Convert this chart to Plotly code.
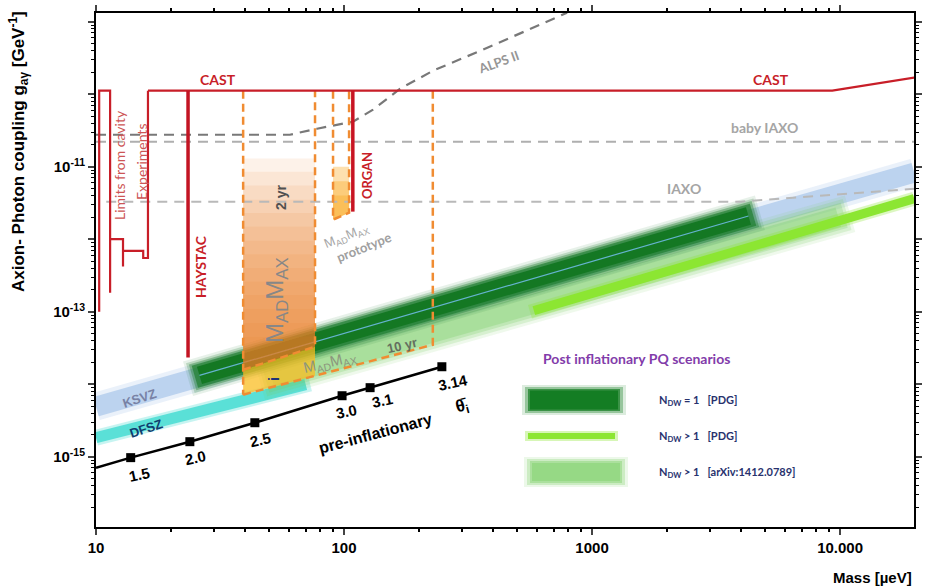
import numpy as np
import plotly.graph_objects as go

# ---------------- data (mass in µeV, coupling g_aγ in GeV^-1) ----------------
cavity_mass = [10.3, 10.3, 11.4, 11.4, None, 11.4, 12.85, 12.85, None, 12.85, 15.5, 15.5, 16.2, 16.2]
cavity_g = [1.0e-13, 1.12e-10, 1.12e-10, 1.82e-13, None, 1.0e-12, 1.0e-12, 4.2e-13, None,
            6.9e-13, 6.9e-13, 5.5e-13, 5.5e-13, 1.12e-10]
cast_mass = [16.2, 9300, 19900]
cast_g = [1.12e-10, 1.12e-10, 1.69e-10]
haystac_mass = [23.5, 23.5]
haystac_g = [1.12e-10, 2.34e-14]
organ_mass = [108.5, 108.5]
organ_g = [1.12e-10, 2.4e-12]

alps_mass = [10, 60.5, 77.8, 108.7, 130.9, 168.3, 228.6, 363, 617, 793]
alps_g = [2.76e-11, 2.76e-11, 3.34e-11, 4.18e-11, 6.11e-11, 1.19e-10, 2.11e-10, 4.11e-10, 9.1e-10, 1.33e-9]
babyiaxo_mass = [10, 19900]
babyiaxo_g = [2.21e-11, 2.21e-11]
iaxo_mass = [11, 3950, 19900]
iaxo_g = [3.29e-12, 3.29e-12, 4.97e-12]

ksvz_mass = [10, 19900]
ksvz_g = [4.9e-15, 8.3e-12]
dfsz_mass = [10, 72.9]
dfsz_g = [1.83e-15, 1.02e-14]

ndw1_mass = [23.5, 4750]
ndw1_g = [1.19e-14, 2.32e-12]
arxiv_mass = [45.8, 10970]
arxiv_g = [1.08e-14, 2.25e-12]
ndwpdg_mass = [562, 19900]
ndwpdg_g = [1.0e-13, 3.62e-12]

# MADMAX sensitivity outlines
mm_left_mass = [39.2, 39.2]
mm_left_g = [1.12e-10, 7.16e-15]
mm2_mass = [39.2, 76.4, 76.4]
mm2_g = [1.58e-14, 3.29e-14, 1.12e-10]
mm10_mass = [39.2, 228, 228]
mm10_g = [7.16e-15, 3.5e-14, 1.12e-10]
proto_mass = [90.3, 90.3, 104.8, 104.8]
proto_g = [1.12e-10, 1.86e-12, 2.32e-12, 1.12e-10]
mm2_fill_top = [4.5e-14, 7e-14, 1.1e-13, 1.7e-13, 2.6e-13, 4.0e-13, 6.2e-13, 9.5e-13, 1.5e-12,
                2.3e-12, 3.5e-12, 5.5e-12, 8.5e-12, 1.3e-11]
mm10_fill_mass = [39.2, 76.4, 76.4, 39.2]
mm10_fill_g = [1.58e-14, 3.29e-14, 1.31e-14, 7.16e-15]
proto_fill_top = [4.0e-12, 6.3e-12, 1.0e-11]

# pre-inflationary theta_i line
preinf_start_mass = 10
preinf_start_g = 7.05e-16
theta_mass = [13.8, 23.9, 43.7, 98.2, 127.4, 248]
theta_g = [9.7e-16, 1.61e-15, 2.94e-15, 6.93e-15, 8.95e-15, 1.74e-14]
theta_labels = ["1.5", "2.0", "2.5", "3.0", "3.1", "3.14"]

x_ticks = [10, 100, 1000, 10000]
x_ticktext = ["10", "100", "1000", "10.000"]
y_ticks = [1e-16, 1e-15, 1e-14, 1e-13, 1e-12, 1e-11, 1e-10, 1e-9]
y_ticktext = ["", "10<sup>-15</sup>", "", "10<sup>-13</sup>", "", "10<sup>-11</sup>", "", ""]

# ---------------- figure ----------------
fig = go.Figure()
L, R, T, B, W, H = 96, 22, 13, 60, 936, 587


def P(px, py):
    return (px - L) / (W - L - R), (H - B - py) / (H - T - B)


def line(x, y, color, width, dash=None, mode="lines"):
    fig.add_trace(go.Scatter(x=x, y=y, mode=mode, hoverinfo="skip", showlegend=False,
                             line=dict(color=color, width=width, dash=dash)))


def sub(x, y, t0, t1):
    lx, ly = np.log10(x), np.log10(y)
    t = np.array([t0, t1])
    return list(10 ** (lx[0] + (lx[1] - lx[0]) * t)), list(10 ** (ly[0] + (ly[1] - ly[0]) * t))


def band(x, y, rgb, layers):
    for width, alpha, t0, t1 in layers:
        xs, ys = sub(x, y, t0, t1)
        line(xs, ys, f"rgba({rgb},{alpha})", width)


# axion model bands
band(ksvz_mass, ksvz_g, "150,185,230", [(28, 0.2, 0, 1), (20, 0.55, 0, 1)])
band(dfsz_mass, dfsz_g, "70,220,210", [(16, 0.3, 0, 1), (11, 0.85, 0, 0.98)])
band(arxiv_mass, arxiv_g, "120,205,100", [(38, 0.12, 0, 1), (32, 0.2, 0.005, 0.995), (26, 0.25, 0.01, 0.99),
                                          (20, 0.3, 0.02, 0.98)])
band(ndw1_mass, ndw1_g, "20,120,35", [(36, 0.1, 0, 1), (31, 0.2, 0.004, 0.996), (27, 0.35, 0.008, 0.992),
                                       (23, 0.6, 0.012, 0.988), (18, 1.0, 0.02, 0.98)])
line(sub(ndw1_mass, ndw1_g, 0.02, 0.98)[0], sub(ndw1_mass, ndw1_g, 0.02, 0.98)[1], "rgba(110,185,225,0.9)", 1.2)
band(ndwpdg_mass, ndwpdg_g, "140,230,50", [(14, 0.3, 0, 1), (9, 1.0, 0.01, 1)])

# MADMAX glow fills
for top in mm2_fill_top:
    fig.add_trace(go.Scatter(x=[39.2, 76.4, 76.4, 39.2, 39.2], y=[1.58e-14, 3.29e-14, top, top, 1.58e-14],
                             mode="lines", fill="toself", fillcolor="rgba(240,125,40,0.1)",
                             line=dict(width=0), hoverinfo="skip", showlegend=False))
fig.add_trace(go.Scatter(x=mm10_fill_mass + [mm10_fill_mass[0]], y=mm10_fill_g + [mm10_fill_g[0]],
                         mode="lines", fill="toself", fillcolor="rgba(250,190,35,0.75)",
                         line=dict(width=0), hoverinfo="skip", showlegend=False))
for top in proto_fill_top:
    fig.add_trace(go.Scatter(x=[90.3, 104.8, 104.8, 90.3, 90.3], y=[1.86e-12, 2.32e-12, top, top, 1.86e-12],
                             mode="lines", fill="toself", fillcolor="rgba(250,165,25,0.35)",
                             line=dict(width=0), hoverinfo="skip", showlegend=False))

# helioscope / LSW projections
line(babyiaxo_mass, babyiaxo_g, "rgb(175,175,175)", 2, "10px,7px")
line(iaxo_mass, iaxo_g, "rgb(185,185,185)", 2, "10px,7px")
line(alps_mass, alps_g, "rgb(120,120,120)", 2.2, "10px,7px")

# MADMAX outlines
OR = "rgb(240,140,50)"
for xs, ys in [(mm_left_mass, mm_left_g), (mm2_mass, mm2_g), (mm10_mass, mm10_g), (proto_mass, proto_g)]:
    line(xs, ys, OR, 2.5, "8px,5px")

# exclusion limits
RED = "rgb(200,30,40)"
line(cavity_mass, cavity_g, RED, 2.2)
line(cast_mass, cast_g, RED, 2.2)
line(haystac_mass, haystac_g, "rgb(195,20,35)", 3.5)
line(organ_mass, organ_g, "rgb(200,20,35)", 3.5)

# pre-inflationary line
line([preinf_start_mass] + theta_mass, [preinf_start_g] + theta_g, "black", 2.5)
fig.add_trace(go.Scatter(x=theta_mass, y=theta_g, mode="markers", hoverinfo="skip", showlegend=False,
                         marker=dict(symbol="square", size=9, color="black")))
label_shift = [(9, -17), (6, -16), (6, -17), (4, -16), (12, -13), (11, -16)]
for m, g, t, (dx, dy) in zip(theta_mass, theta_g, theta_labels, label_shift):
    fig.add_annotation(x=np.log10(m), y=np.log10(g), xref="x", yref="y", text=f"<b>{t}</b>",
                       showarrow=False, xshift=dx, yshift=dy, textangle=-12,
                       font=dict(family="Liberation Sans", size=15, color="black"))


def label(text, px, py, size, color, angle=0, family="Lato", xanchor="center"):
    x, y = P(px, py)
    fig.add_annotation(x=x, y=y, xref="paper", yref="paper", text=text, showarrow=False,
                       textangle=angle, xanchor=xanchor, yanchor="middle",
                       font=dict(family=family, size=size, color=color))


label("<b>CAST</b>", 218, 79, 14, RED)
label("<b>CAST</b>", 771, 79, 14, RED)
label("<b>HAYSTAC</b>", 200, 267, 14, RED, -90)
label("<b>ORGAN</b>", 367, 176, 13, RED, -90)
label("Limits from cavity", 120, 165, 14, "rgb(205,85,85)", -90)
label("Experiments", 142, 162, 14, "rgb(205,85,85)", -90)
label("<b>ALPS II</b>", 498, 62, 13, "rgb(150,150,150)", -20)
label("<b>baby IAXO</b>", 764, 127, 14, "rgb(165,165,165)")
label("<b>IAXO</b>", 684, 188, 14, "rgb(165,165,165)")
label("<b>KSVZ</b>", 139, 398, 13, "rgb(120,130,165)", -18, "Liberation Sans")
label("<b>DFSZ</b>", 146, 428, 13, "rgb(15,60,110)", -18, "Liberation Sans")
label("M<sub>AD</sub>M<sub>AX</sub>", 276, 300, 24, "rgb(135,135,135)", -90, "Liberation Sans")
label("<b>i</b>", 273, 379, 15, "rgb(30,50,120)", -90, "Liberation Sans")
label("<b>2 yr</b>", 281, 198, 14, "rgb(80,80,80)", -90, "Liberation Sans")
label("M<sub>AD</sub>M<sub>AX</sub>", 346, 236, 13, "rgb(165,165,165)", -22, "Liberation Sans")
label("<b>prototype</b>", 364, 247, 13, "rgb(160,160,160)", -22)
label("M<sub>AD</sub>M<sub>AX</sub>", 330, 362, 15, "rgb(140,150,125)", -13, "Liberation Sans")
label("<b>10 yr</b>", 402, 346, 13, "rgb(100,110,95)", -13, "Liberation Sans")
label("<b>pre-inflationary</b>", 375, 433, 16, "black", -15, "Liberation Sans")
label("<b>θ̄<sub>i</sub></b>", 462, 407, 17, "black", -15, "Liberation Sans")

# legend for post inflationary scenarios
label("<b>Post inflationary PQ scenarios</b>", 636, 358, 14, "rgb(130,60,170)")


def swatch(x0, x1, py, rgb, layers):
    for width, alpha, ext in layers:
        a, y = P(x0 - ext, py)
        b, _ = P(x1 + ext, py)
        fig.add_shape(type="line", xref="paper", yref="paper", x0=a, x1=b, y0=y, y1=y,
                      line=dict(color=f"rgba({rgb},{alpha})", width=width))


swatch(530, 618, 400, "20,125,35", [(30, 0.15, 8), (26, 0.35, 5), (22, 0.7, 2), (19, 1.0, 0)])
swatch(528, 615, 436, "140,230,50", [(10, 0.35, 3), (6, 1.0, 0)])
swatch(532, 620, 472, "130,210,110", [(30, 0.15, 8), (26, 0.3, 5), (22, 0.45, 2), (18, 0.5, 0)])
legend_texts = ["N<sub>DW</sub> = 1   [PDG]", "N<sub>DW</sub> &gt; 1   [PDG]", "N<sub>DW</sub> &gt; 1   [arXiv:1412.0789]"]
for txt, py in zip(legend_texts, [400, 436, 472]):
    label(f"<b>{txt}</b>", 657, py, 11, "rgb(40,50,110)", 0, "Lato", "left")

# axis titles
label("<b>Axion- Photon coupling g<sub>aγ</sub> [GeV<sup>-1</sup>]</b>", 18, 152, 17, "black", -90,
      "Liberation Sans")
label("<b>Mass [µeV]</b>", 914, 577, 15, "black", 0, "Liberation Sans", "right")

x_minor = [k * 10 ** d for d in range(1, 5) for k in range(2, 10) if k * 10 ** d < 19900]
y_minor = [k * 10.0 ** d for d in range(-16, -8) for k in range(2, 10)]

fig.update_xaxes(type="log", range=[1.0, 4.298], tickvals=x_ticks, automargin=False,
                 ticktext=[f"<b>{t}</b>" for t in x_ticktext], ticks="outside", ticklen=6, tickwidth=2,
                 showline=True, linewidth=2, linecolor="black", mirror="ticks", showgrid=False, zeroline=False,
                 tickfont=dict(family="Liberation Sans", size=15, color="black"),
                 minor=dict(tickvals=x_minor, ticks="outside", ticklen=3, tickwidth=1.5, tickcolor="black",
                            showgrid=False))
fig.update_yaxes(type="log", range=[-15.97, -8.88], tickvals=y_ticks, automargin=False,
                 ticktext=[f"<b>{t}</b>" if t else "" for t in y_ticktext], ticks="outside", ticklen=6,
                 tickwidth=2, showline=True, linewidth=2, linecolor="black", mirror="ticks", showgrid=False,
                 zeroline=False, tickfont=dict(family="Liberation Sans", size=15, color="black"),
                 minor=dict(tickvals=y_minor, ticks="outside", ticklen=3, tickwidth=1.2, tickcolor="black",
                            showgrid=False))
fig.update_layout(width=W, height=H, margin=dict(l=L, r=R, t=T, b=B), plot_bgcolor="white",
                  paper_bgcolor="white", showlegend=False, hovermode=False)
fig.write_html("out.html")
